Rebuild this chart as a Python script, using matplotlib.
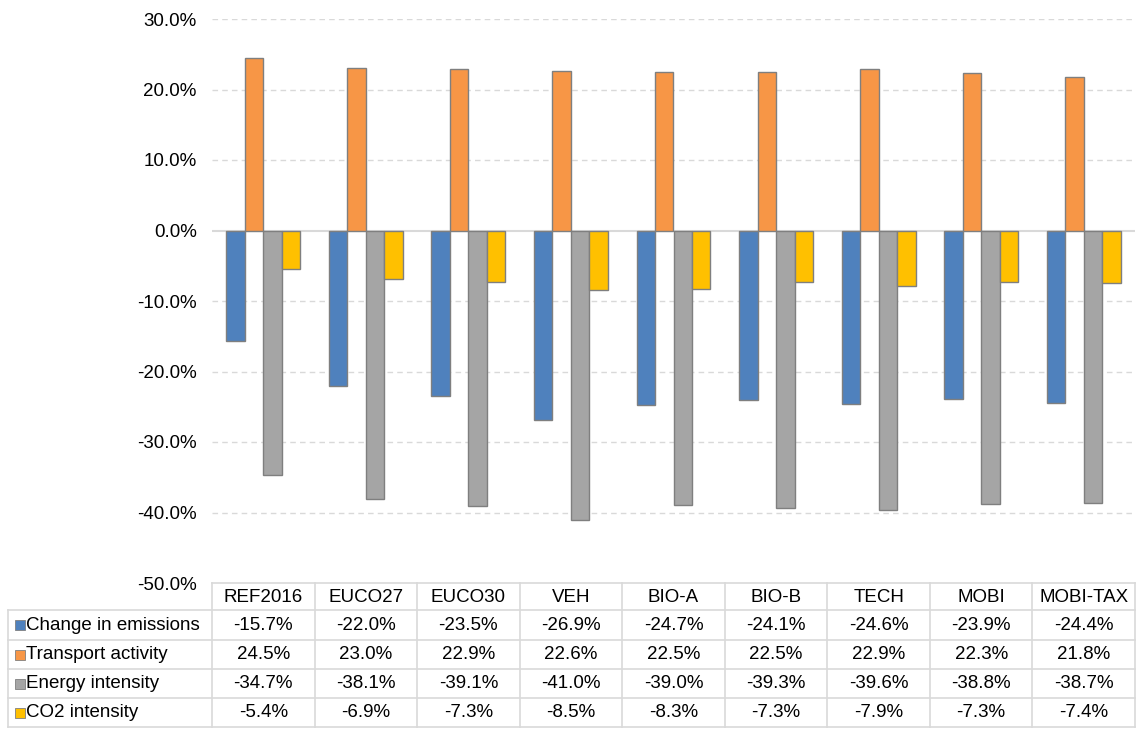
import matplotlib
matplotlib.use("Agg")
import matplotlib.pyplot as plt
from matplotlib.transforms import blended_transform_factory
from matplotlib.patches import Rectangle
import numpy as np

categories = ["REF2016", "EUCO27", "EUCO30", "VEH", "BIO-A", "BIO-B", "TECH", "MOBI", "MOBI-TAX"]
series_names = ["Change in emissions", "Transport activity", "Energy intensity", "CO2 intensity"]
change_emissions = [-15.7, -22.0, -23.5, -26.9, -24.7, -24.1, -24.6, -23.9, -24.4]
transport_activity = [24.5, 23.0, 22.9, 22.6, 22.5, 22.5, 22.9, 22.3, 21.8]
energy_intensity = [-34.7, -38.1, -39.1, -41.0, -39.0, -39.3, -39.6, -38.8, -38.7]
co2_intensity = [-5.4, -6.9, -7.3, -8.5, -8.3, -7.3, -7.9, -7.3, -7.4]
yticks = [30, 20, 10, 0, -10, -20, -30, -40, -50]

series = [change_emissions, transport_activity, energy_intensity, co2_intensity]
colors = ["#4F81BD", "#F79646", "#A5A5A5", "#FFC000"]

plt.rcParams['font.family'] = ['Liberation Sans', 'DejaVu Sans']
FS = 13.5
W, H = 1137, 729
fig = plt.figure(figsize=(W / 100, H / 100), dpi=100)
L, R, T, B = 212, 1135, 19, 583
ax = fig.add_axes([L / W, 1 - B / H, (R - L) / W, (B - T) / H])

n = len(categories)
x = np.arange(n)
bw = 0.18
for k, (vals, c) in enumerate(zip(series, colors)):
    ax.bar(x + (k - 1.5) * bw, vals, width=bw, color=c, edgecolor="#7F7F7F",
           linewidth=1.0, zorder=3)

ax.set_xlim(-0.5, n - 0.5)
ax.set_ylim(-50, 30)
ax.set_yticks(yticks)
ax.set_yticklabels([f"{v:.1f}%" for v in yticks], fontsize=FS)
ax.tick_params(axis='y', length=0, pad=11)
ax.set_xticks([])
for s in ax.spines.values():
    s.set_visible(False)
for v in yticks:
    if v == 0:
        ax.axhline(0, color="#D9D9D9", lw=1.5, zorder=2)
    elif v != -50:
        ax.axhline(v, color="#D9D9D9", lw=1.0, ls=(0, (4, 3)), zorder=1)

# table
trf = blended_transform_factory(ax.transData, fig.transFigure)
def fy(py):
    return 1 - py / H
def fx(px):
    return px / W

line_c = "#D9D9D9"
header_top, header_bot = 583, 610
row_edges = [610, 640, 669, 698, 727]
left_x = 8

fig.add_artist(plt.Line2D([fx(L), fx(R)], [fy(header_top)] * 2, color=line_c, lw=1.2))
for ry in row_edges:
    fig.add_artist(plt.Line2D([fx(left_x), fx(R)], [fy(ry)] * 2, color=line_c, lw=1.2))
fig.add_artist(plt.Line2D([fx(left_x)] * 2, [fy(row_edges[0]), fy(row_edges[-1])], color=line_c, lw=1.2))
for i in range(n + 1):
    ax.add_line(plt.Line2D([i - 0.5] * 2, [fy(header_top), fy(row_edges[-1])], color=line_c,
                           lw=1.2, transform=trf, clip_on=False))

for i, cat in enumerate(categories):
    ax.text(i, fy((header_top + header_bot) / 2 + 1), cat, transform=trf, ha="center", va="center",
            fontsize=FS, clip_on=False)

for r, (name, vals, c) in enumerate(zip(series_names, series, colors)):
    yc = (row_edges[r] + row_edges[r + 1]) / 2
    fig.add_artist(Rectangle((fx(15), fy(yc + 5)), 10 / W, 10 / H, facecolor=c,
                             edgecolor="#7F7F7F", lw=0.6, transform=fig.transFigure))
    fig.text(fx(26), fy(yc), name, ha="left", va="center", fontsize=FS)
    for i, v in enumerate(vals):
        ax.text(i, fy(yc), f"{v:.1f}%", transform=trf, ha="center", va="center",
                fontsize=FS, clip_on=False)

fig.savefig("out.png", dpi=100)
